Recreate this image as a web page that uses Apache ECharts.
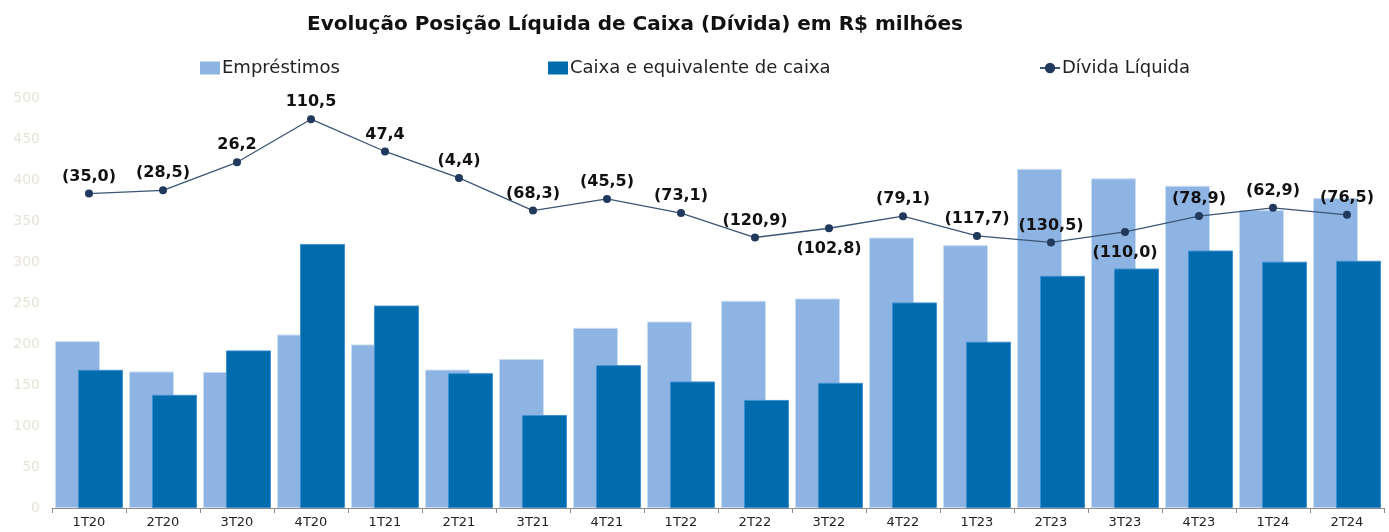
<!DOCTYPE html>
<html>
<head>
<meta charset="utf-8">
<script src="https://cdn.jsdelivr.net/npm/echarts@6/dist/echarts.min.js"></script>
<style>
  html, body { margin: 0; padding: 0; background: #fff; }
  #chart { width: 1389px; height: 532px; }
</style>
</head>
<body>
<div id="chart"></div>
<script>
// trimestres
const categories = ['1T20', '2T20', '3T20', '4T20', '1T21', '2T21', '3T21', '4T21', '1T22',
  '2T22', '3T22', '4T22', '1T23', '2T23', '3T23', '4T23', '1T24', '2T24'];
// R$ milhões
const emprestimos = [203.5, 166.5, 166.0, 211.5, 199.5, 168.8, 181.7, 219.7, 227.4,
  252.7, 255.5, 329.8, 320.5, 413.6, 402.0, 392.9, 363.3, 378.0];
const caixa = [168.5, 138.0, 192.2, 322.0, 246.9, 164.4, 113.4, 174.2, 154.3,
  131.8, 152.7, 250.7, 202.8, 283.1, 292.0, 314.0, 300.4, 301.5];
const dividaLiquida = [-35.0, -28.5, 26.2, 110.5, 47.4, -4.4, -68.3, -45.5, -73.1,
  -120.9, -102.8, -79.1, -117.7, -130.5, -110.0, -78.9, -62.9, -76.5];
// labels drawn under the point
const labelsBelow = ['3T22', '3T23'];

const FONT = '"DejaVu Sans", Verdana, sans-serif';

function fmt(v) {
  const s = Math.abs(v).toFixed(1).replace('.', ',');
  return v < 0 ? '(' + s + ')' : s;
}

const chart = echarts.init(document.getElementById('chart'));

const option = {
  animation: false,
  backgroundColor: '#fff',
  textStyle: { fontFamily: FONT },
  title: {
    text: 'Evolução Posição Líquida de Caixa (Dívida) em R$ milhões',
    left: 630, top: 10, textAlign: 'center',
    textStyle: { fontFamily: FONT, fontSize: 20, fontWeight: 'bold', color: '#111' }
  },
  legend: [
    { data: ['Empréstimos'], left: 200, icon: 'rect' },
    { data: ['Caixa e equivalente de caixa'], left: 548, icon: 'rect' },
    { data: ['Dívida Líquida'], left: 1039 }
  ].map(l => Object.assign({
    top: 59, padding: 0,
    itemWidth: 20, itemHeight: 13, itemGap: 4,
    itemStyle: { borderWidth: 0 },
    textStyle: { fontFamily: FONT, fontSize: 18, color: '#222', padding: [0, 0, 0, -3] }
  }, l)),
  grid: { left: 52, right: 5, top: 98, bottom: 24, containLabel: false },
  xAxis: {
    type: 'category',
    data: categories,
    axisLine: { lineStyle: { color: '#8c8c8c' } },
    axisTick: { show: true, length: 5, interval: 0, lineStyle: { color: '#8c8c8c' } },
    axisLabel: { color: '#222', fontFamily: FONT, fontSize: 13, margin: 8 }
  },
  yAxis: [
    {
      type: 'value', min: 0, max: 500, interval: 50,
      axisLine: { show: false }, axisTick: { show: false },
      splitLine: { show: false },
      axisLabel: { color: '#e6e3d6', fontFamily: FONT, fontSize: 14, margin: 12 }
    },
    {
      type: 'value', min: -650, max: 152, show: false,
      splitLine: { show: false }
    }
  ],
  series: [
    {
      name: 'Empréstimos', type: 'bar', data: emprestimos,
      barWidth: 45, barGap: '-49%',
      itemStyle: { color: '#8eb4e3', borderColor: '#c9dcf2', borderWidth: 1 }
    },
    {
      name: 'Caixa e equivalente de caixa', type: 'bar', data: caixa,
      barWidth: 45,
      itemStyle: { color: '#006cae', borderColor: '#3f8fd0', borderWidth: 1 }
    },
    {
      name: 'Dívida Líquida', type: 'line', yAxisIndex: 1,
      data: dividaLiquida.map((v, i) => {
        const below = labelsBelow.includes(categories[i]);
        return { value: v, label: { position: below ? 'bottom' : 'top', distance: below ? 9 : 5 } };
      }),
      symbol: 'circle', symbolSize: 8,
      lineStyle: { color: '#3b5577', width: 1.3 },
      itemStyle: { color: '#22395e' },
      label: {
        show: true,
        formatter: p => fmt(p.value),
        fontFamily: FONT, fontSize: 16, fontWeight: 'bold', color: '#111'
      },
      z: 5
    }
  ]
};

chart.setOption(option);
</script>
</body>
</html>
